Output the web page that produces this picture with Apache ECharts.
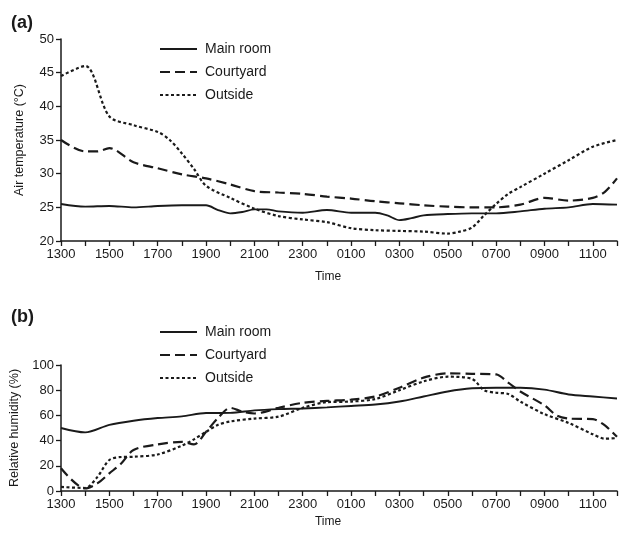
<!DOCTYPE html>
<html>
<head>
<meta charset="utf-8">
<script src="https://cdn.jsdelivr.net/npm/echarts@6/dist/echarts.min.js"></script>
<style>
html, body { margin: 0; padding: 0; background: #fff; }
#chart { width: 621px; height: 536px; }
</style>
</head>
<body>
<div id="chart"></div>
<script>
// hours after 1300 (0 = 1300, 23 = 1200 next day)
var timeLabels = ['1300', '1500', '1700', '1900', '2100', '2300', '0100', '0300', '0500', '0700', '0900', '1100'];
var seriesNames = ['Main room', 'Courtyard', 'Outside'];

// (a) air temperature, [hour, degC]
var tempMain = [[0,25.5],[1,25.1],[2,25.2],[3,25.0],[4,25.2],[5,25.3],[6,25.3],[6.5,24.6],[7,24.1],[7.5,24.3],
  [8,24.7],[8.5,24.7],[9,24.4],[10,24.2],[11,24.6],[12,24.2],[13,24.2],[13.5,23.8],[14,23.1],[14.5,23.4],
  [15,23.8],[16,24.0],[17,24.1],[18,24.1],[19,24.4],[20,24.8],[21,25.0],[22,25.5],[23,25.4]];
var tempCourt = [[0,35],[1,33.3],[1.5,33.3],[2,33.8],[3,31.7],[4,30.8],[5,29.9],[6,29.3],[7,28.4],[8,27.4],
  [9,27.2],[10,27],[11,26.6],[12,26.3],[13,25.9],[14,25.6],[15,25.3],[16,25.1],[17,25],[18,25],
  [19,25.4],[20,26.4],[21,26],[22,26.4],[22.5,27.3],[23,29.3]];
var tempOut = [[0,44.5],[1,46],[2,38.5],[3,37.2],[4,36.2],[4.5,35],[5,33],[5.5,30.7],[6,28.2],[7,26.4],
  [8,24.8],[9,23.7],[10,23.2],[11,22.8],[12,21.9],[13,21.6],[14,21.5],[15,21.4],[16,21.1],[16.5,21.4],
  [17,22],[17.5,23.8],[18,25.5],[18.5,27],[19,28],[20,30],[21,32],[22,34],[23,35]];

// (b) relative humidity, [hour, %]
var rhMain = [[0,50],[1,46.5],[2,52.5],[3,55.8],[4,57.9],[5,59.2],[6,61.9],[7,62],[8,64],[9,65],
  [10,65.5],[11,66.4],[12,67.5],[13,68.6],[14,71],[15,75],[16,79],[17,81.5],[18,82],[19,82],
  [20,80.5],[21,76.6],[22,75],[23,73.4]];
var rhCourt = [[0,18],[1,2],[1.5,6],[2,14],[2.5,22],[3,32.6],[4,37],[5,39],[5.5,37],[6,47],[6.5,58],[7,66],
  [7.5,63],[8,61.5],[9,66],[10,70],[11,71.5],[12,72.5],[13,75],[14,82],[15,90],[16,93.4],[17,93],
  [18,92.5],[18.5,86],[19,79],[20,68],[20.5,60],[21,57.5],[22,57],[22.5,52],[23,43]];
var rhOut = [[0,3.2],[1,2.4],[1.5,11],[2,24.6],[2.5,27],[3,27.2],[4,29],[5,36],[5.5,41],[6,47],[6.5,52.6],
  [7,55.2],[8,57.5],[9,59],[10,66],[11,70.5],[12,71],[13,73],[14,80],[15,87],[16,90.7],[17,89],
  [17.5,80],[18,78],[18.5,77],[19,71],[20,61],[21,54],[22,45],[22.5,41.5],[23,42]];

var ink = '#1a1a1a';
var lineTypes = ['solid', [10, 5], [3, 2.5]];
var lineWidths = [1.9, 2.2, 2.2];

function makeX(idx) {
    return {
        type: 'value', gridIndex: idx, min: 0, max: 23, interval: 1,
        name: 'Time', nameLocation: 'middle', nameGap: idx === 0 ? 30 : 25,
        nameTextStyle: { color: ink, fontSize: 12, fontFamily: 'Liberation Sans', padding: [0, 22, 0, 0] },
        axisLine: { lineStyle: { color: ink, width: 1.5 } },
        axisTick: { show: true, length: 5, lineStyle: { color: ink, width: 1.3 } },
        axisLabel: {
            color: ink, fontSize: 13, fontFamily: 'Liberation Sans', margin: 7,
            formatter: function (v) { return v % 2 === 0 ? timeLabels[v / 2] : ''; }
        },
        splitLine: { show: false }
    };
}

function makeY(idx, min, max, interval, name) {
    return {
        type: 'value', gridIndex: idx, min: min, max: max, interval: interval,
        name: name, nameLocation: 'middle', nameGap: 35, nameRotate: 90,
        nameTextStyle: { color: ink, fontSize: 12.5, fontFamily: 'Liberation Sans' },
        axisLine: { show: true, lineStyle: { color: ink, width: 1.5 } },
        axisTick: { show: true, length: 5, lineStyle: { color: ink, width: 1.3 } },
        axisLabel: { color: ink, fontSize: 13, fontFamily: 'Liberation Sans', margin: 7 },
        splitLine: { show: false }
    };
}

function makeSeries(name, k, data, idx) {
    return {
        name: name, type: 'line', xAxisIndex: idx, yAxisIndex: idx,
        data: data, smooth: 0.3, symbol: 'none',
        lineStyle: { color: ink, width: lineWidths[k], type: lineTypes[k] },
        itemStyle: { color: ink }
    };
}

function makeLegend(top) {
    return {
        orient: 'vertical', left: 154, top: top, itemWidth: 37, itemHeight: 14, itemGap: 9,
        data: seriesNames,
        itemStyle: { opacity: 0 },
        textStyle: { color: ink, fontSize: 14, fontFamily: 'Liberation Sans', padding: [0, 0, 0, 3] }
    };
}

var chart = echarts.init(document.getElementById('chart'));
chart.setOption({
    animation: false,
    backgroundColor: '#fff',
    title: [
        { text: '(a)', left: 6, top: 9, textStyle: { color: ink, fontSize: 18, fontWeight: 'bold', fontFamily: 'Liberation Sans' } },
        { text: '(b)', left: 6, top: 303, textStyle: { color: ink, fontSize: 18, fontWeight: 'bold', fontFamily: 'Liberation Sans' } }
    ],
    legend: [makeLegend(37), makeLegend(320)],
    grid: [
        { left: 61, right: 4, top: 39, bottom: 295 },
        { left: 61, right: 4, top: 365, bottom: 45 }
    ],
    xAxis: [makeX(0), makeX(1)],
    yAxis: [makeY(0, 20, 50, 5, 'Air temperature (°C)'), makeY(1, 0, 100, 20, 'Relative humidity (%)')],
    series: [
        makeSeries(seriesNames[0], 0, tempMain, 0),
        makeSeries(seriesNames[1], 1, tempCourt, 0),
        makeSeries(seriesNames[2], 2, tempOut, 0),
        makeSeries(seriesNames[0], 0, rhMain, 1),
        makeSeries(seriesNames[1], 1, rhCourt, 1),
        makeSeries(seriesNames[2], 2, rhOut, 1)
    ]
});
</script>
</body>
</html>
